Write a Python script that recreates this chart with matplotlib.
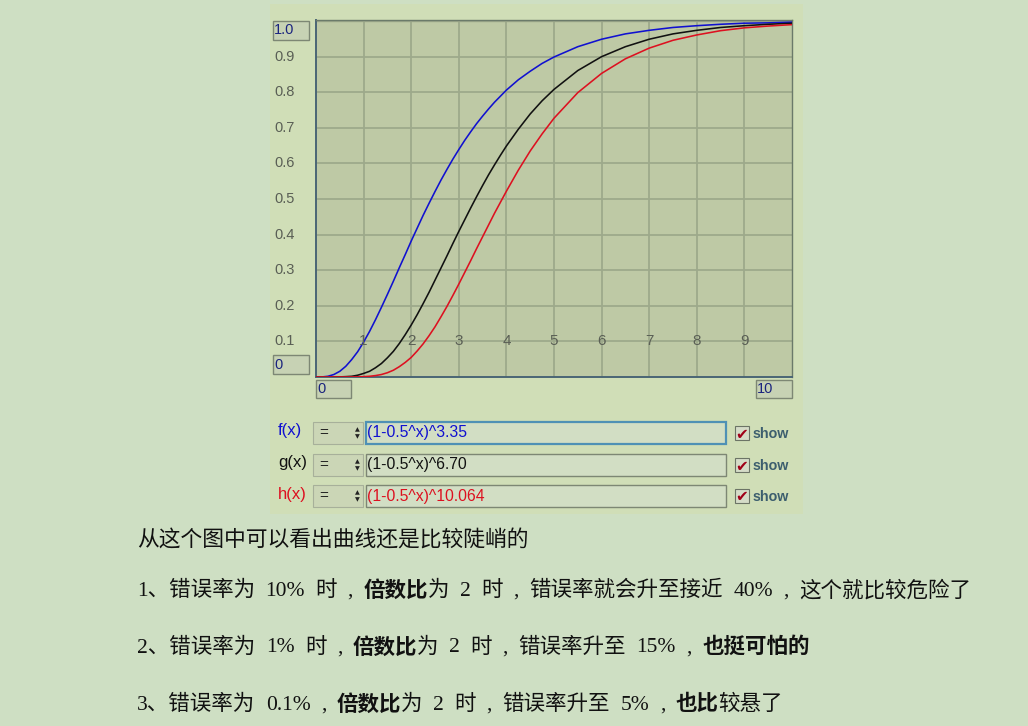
import numpy as np
import matplotlib.pyplot as plt
from matplotlib.patches import Rectangle

# ---------------------------------------------------------------
# data: x positions and the three curves
# ---------------------------------------------------------------
x_vals = [0, 0.125, 0.25, 0.375, 0.5, 0.625, 0.75, 0.875, 1, 1.125, 1.25, 1.375,
          1.5, 1.625, 1.75, 1.875, 2, 2.125, 2.25, 2.375, 2.5, 2.625, 2.75, 2.875,
          3, 3.125, 3.25, 3.375, 3.5, 3.625, 3.75, 3.875, 4, 4.25, 4.5, 4.75,
          5, 5.5, 6, 6.5, 7, 7.5, 8, 8.5, 9, 9.5, 10]
f_vals = [0, 0.0002, 0.002, 0.007, 0.016, 0.030, 0.049, 0.071, 0.098, 0.128,
          0.161, 0.196, 0.232, 0.269, 0.307, 0.344, 0.382, 0.418, 0.454, 0.488,
          0.521, 0.553, 0.583, 0.612, 0.639, 0.665, 0.689, 0.712, 0.733, 0.753,
          0.772, 0.789, 0.806, 0.835, 0.859, 0.881, 0.899, 0.928, 0.949, 0.964,
          0.974, 0.982, 0.987, 0.991, 0.994, 0.995, 0.997]
g_vals = [0, 0.0, 0.0, 0.0001, 0.0003, 0.001, 0.002, 0.005, 0.010, 0.016,
          0.026, 0.038, 0.054, 0.072, 0.094, 0.119, 0.146, 0.175, 0.206, 0.238,
          0.272, 0.306, 0.340, 0.375, 0.409, 0.442, 0.475, 0.507, 0.538, 0.568,
          0.596, 0.623, 0.649, 0.696, 0.739, 0.776, 0.808, 0.861, 0.900, 0.928,
          0.949, 0.964, 0.974, 0.982, 0.987, 0.991, 0.994]
h_vals = [0, 0.0, 0.0, 0.0, 0.0, 0.0, 0.0001, 0.0004, 0.001, 0.002,
          0.004, 0.007, 0.012, 0.019, 0.029, 0.041, 0.055, 0.073, 0.093, 0.116,
          0.141, 0.169, 0.198, 0.229, 0.261, 0.294, 0.327, 0.361, 0.394, 0.427,
          0.460, 0.491, 0.522, 0.581, 0.635, 0.683, 0.727, 0.799, 0.853, 0.894,
          0.924, 0.946, 0.961, 0.973, 0.981, 0.986, 0.990]

func_names = ["f(x)", "g(x)", "h(x)"]
func_exprs = ["(1-0.5^x)^3.35", "(1-0.5^x)^6.70", "(1-0.5^x)^10.064"]
func_colors = ["#1010d0", "#111111", "#dd1020"]
x_tick_labels = ["1", "2", "3", "4", "5", "6", "7", "8", "9"]
y_tick_labels = ["0.1", "0.2", "0.3", "0.4", "0.5", "0.6", "0.7", "0.8", "0.9"]

# "_" marks a word gap in the notes below
intro = "从这个图中可以看出曲线还是比较陡峭的"
lines = [
    [("1、错误率为_10%_时_,_", "normal"), ("倍数比", "bold"),
     ("为_2_时_,_错误率就会升至接近_40%_,_这个就比较危险了", "normal")],
    [("2、错误率为_1%_时_,_", "normal"), ("倍数比", "bold"),
     ("为_2_时_,_错误率升至_15%_,_", "normal"), ("也挺可怕的", "bold")],
    [("3、错误率为_0.1%_,_", "normal"), ("倍数比", "bold"),
     ("为_2_时_,_错误率升至_5%_,_", "normal"), ("也比", "bold"), ("较悬了", "normal")],
]

W, H = 1028, 726
PAGE = "#cedfc3"
PANEL = "#d0deb7"
PLOT_BG = "#bec9a5"
GRID = "#9da98b"
cjk = ["Liberation Serif", "Noto Sans CJK SC"]
ui = ["Liberation Sans", "DejaVu Sans"]

fig = plt.figure(figsize=(W / 100, H / 100), dpi=100, facecolor=PAGE)


def fx(x):
    return x / W


def fy(y):
    return 1 - y / H


def box(x0, y0, x1, y1, fc, ec, lw=1.0, z=1):
    fig.patches.append(Rectangle((fx(x0), fy(y1)), fx(x1) - fx(x0), fy(y0) - fy(y1),
                                 transform=fig.transFigure, fc=fc, ec=ec, lw=lw,
                                 zorder=z))


# widget panel (behind the axes)
box(270, 4, 803, 514, PANEL, "none", z=-5)

# ---------------------------------------------------------------
# plot area
# ---------------------------------------------------------------
ax = fig.add_axes([fx(316), fy(377), fx(792) - fx(316), fy(20) - fy(377)])
ax.set_facecolor(PLOT_BG)
ax.set_xlim(0, 10)
ax.set_ylim(0, 1.003)
for k in range(1, 10):
    ax.axvline(k, color=GRID, lw=1.3, zorder=1)
    ax.axhline(k / 10, color=GRID, lw=1.3, zorder=1)
ax.axhline(1.0, color=GRID, lw=1.0, zorder=1)
for ys, col in zip([f_vals, g_vals, h_vals], func_colors):
    ax.plot(x_vals, ys, color=col, lw=1.15, zorder=3)
for k, lab in enumerate(x_tick_labels):
    ax.text(k + 1, 0.1, lab, ha="center", va="center", fontsize=11,
            color="#5a5f55", family=ui, zorder=4)
ax.set_xticks([])
ax.set_yticks([])
for side in ["top", "right"]:
    ax.spines[side].set_color("#6b7a6a")
    ax.spines[side].set_linewidth(1.0)
for side in ["left", "bottom"]:
    ax.spines[side].set_color("#4a6575")
    ax.spines[side].set_linewidth(1.4)

# y labels outside on the left
for k, lab in enumerate(y_tick_labels):
    yy = 377 - (k + 1) * 35.6
    fig.text(fx(274), fy(yy), lab, ha="left", va="center", fontsize=10.5,
             color="#5a5f55", family=ui)

# range entry boxes
for (x0, y0, x1, y1, s) in [(273, 21, 309, 40, "1.0"), (273, 355, 309, 374, "0"),
                            (316, 380, 351, 398, "0"), (756, 380, 792, 398, "10")]:
    box(x0, y0, x1, y1, "#c7d2b4", "#7d8774", 1.0)
    fig.text(fx(x0 + 1), fy((y0 + y1) / 2), s, ha="left", va="center",
             fontsize=10.5, color="#1a237e", family=ui)

# ---------------------------------------------------------------
# function rows
# ---------------------------------------------------------------
row_y = [433, 465, 496]
for i in range(3):
    yc = row_y[i]
    fig.text(fx(278), fy(yc - 2), func_names[i], ha="left", va="center",
             fontsize=12, color=func_colors[i], family=ui)
    box(313, yc - 11, 363, yc + 11, "#cbd6b6", "#a7b09a", 0.8)
    fig.text(fx(319), fy(yc), "=", ha="left", va="center", fontsize=11,
             color="#222222", family=ui)
    fig.text(fx(357), fy(yc - 3), "▲", ha="center", va="center", fontsize=4.5,
             color="#222222")
    fig.text(fx(357), fy(yc + 4), "▼", ha="center", va="center", fontsize=4.5,
             color="#222222")
    edge = "#4f91b5" if i == 0 else "#7d8774"
    box(366, yc - 11, 726, yc + 11, "#d2dec4", edge, 1.6 if i == 0 else 1.0)
    fig.text(fx(367), fy(yc), func_exprs[i], ha="left", va="center",
             fontsize=11.3, color=func_colors[i], family=ui)
    box(735, yc - 7, 749, yc + 7, "#d5dcc8", "#6c7466", 0.8)
    fig.text(fx(742), fy(yc + 1), "✔", ha="center", va="center", fontsize=11,
             color="#a00018", family="DejaVu Sans")
    fig.text(fx(753), fy(yc + 1), "show", ha="left", va="center", fontsize=10.3,
             color="#3c5e6e", weight="bold", family=ui)

# ---------------------------------------------------------------
# notes below the plotter
# ---------------------------------------------------------------
fs = 15.5
GAP = 10.5
fig.text(fx(137), fy(541), intro, ha="left", va="center", fontsize=15.7,
         color="#111111", family=cjk)

renderer = fig.canvas.get_renderer()
for yline, parts in zip([591, 648, 705], lines):
    xpos = 137
    for s, wt in parts:
        for j, piece in enumerate(s.split("_")):
            if j > 0:
                xpos += GAP
            if not piece:
                continue
            t = fig.text(fx(xpos), fy(yline), piece, ha="left", va="center",
                         fontsize=fs, color="#111111", family=cjk, weight=wt)
            xpos += t.get_window_extent(renderer).width

fig.savefig("out.png", dpi=100, facecolor=PAGE)
